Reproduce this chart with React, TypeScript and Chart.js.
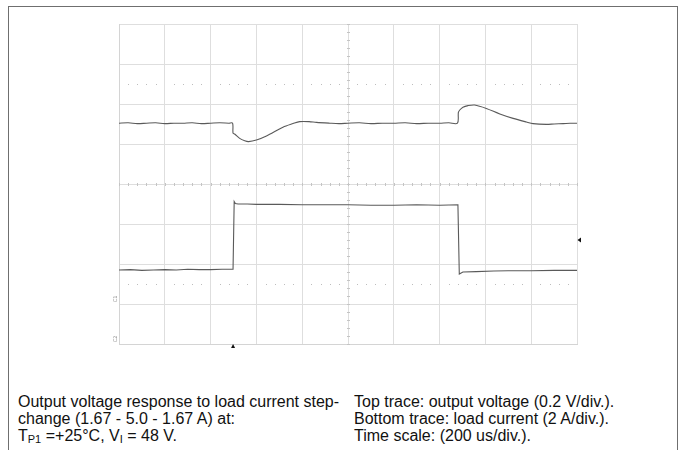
import React, { useEffect, useRef } from "react";
import { Chart, registerables } from "chart.js";

Chart.register(...registerables);

// Time axis (us), 200 us/div, 10 divisions
const timeMin = 0;
const timeMax = 2000;
const timeDiv = 200;
const timeMinor = 40;
// Vertical axis in screen divisions (8 divisions)
const levelMin = 0;
const levelMax = 8;
const levelMinor = 0.2;

// Top trace: output voltage (0.2 V/div), in screen divisions
const topTimes = [
  0, 40, 80, 120, 160, 200, 240, 280, 320, 360, 400, 440, 480, 496,
  498, 505, 527, 549, 566, 600, 644, 716, 760, 789, 830, 862, 920,
  960, 1000, 1050, 1100, 1150, 1200, 1250, 1300, 1350, 1400, 1440, 1478,
  1482, 1488, 1502, 1524, 1553, 1604, 1663, 1721, 1779, 1808, 1866, 1900,
  1940, 1970, 2000,
];
const topTrace = [
  5.52, 5.53, 5.51, 5.52, 5.53, 5.51, 5.52, 5.52, 5.53, 5.51, 5.52, 5.53, 5.52, 5.52,
  5.27, 5.25, 5.14, 5.08, 5.06, 5.1, 5.2, 5.42, 5.51, 5.56, 5.56, 5.54, 5.52,
  5.51, 5.52, 5.53, 5.51, 5.52, 5.52, 5.53, 5.51, 5.52, 5.52, 5.53, 5.52,
  5.79, 5.85, 5.92, 5.96, 5.975, 5.89, 5.75, 5.64, 5.55, 5.51, 5.49, 5.5,
  5.51, 5.52, 5.52,
];

// Bottom trace: load current (2 A/div), in screen divisions
const bottomTimes = [
  0, 50, 100, 150, 200, 250, 300, 350, 400, 450, 494, 498,
  503, 508, 520, 560, 600, 700, 800, 900, 1000, 1100, 1200, 1300, 1400, 1480,
  1486, 1502, 1560, 1637, 1700, 1800, 1900, 2000,
];
const bottomTrace = [
  1.85, 1.86, 1.84, 1.85, 1.86, 1.85, 1.87, 1.86, 1.86, 1.87, 1.87, 1.87,
  3.56, 3.51, 3.5, 3.5, 3.49, 3.49, 3.48, 3.48, 3.48, 3.47, 3.47, 3.48, 3.47, 3.48,
  1.75, 1.8, 1.81, 1.825, 1.83, 1.83, 1.84, 1.84,
];

// Scope markers
const triggerTime = 498;
const triggerLevel = 2.6;
const dottedRows = [6.5, 1.5];
const centerTime = 1000;
const centerLevel = 4;
const channelMarks = [
  { level: 1.05, label: "C1" },
  { level: 0.05, label: "C2" },
];

const captionLeft = [
  "Output voltage response to load current step-",
  "change (1.67 - 5.0 - 1.67 A) at:",
];
const captionRight = [
  "Top trace: output voltage (0.2 V/div.).",
  "Bottom trace: load current (2 A/div.).",
  "Time scale: (200 us/div.).",
];

const gridColor = "#dedede";
const traceColor = "#5a5a5a";

const scopePlugin = {
  id: "scopeDecor",
  beforeDatasetsDraw(chart: any) {
    const { ctx } = chart;
    const x = chart.scales.x;
    const y = chart.scales.y;
    ctx.save();
    // minor ticks on centre lines
    ctx.strokeStyle = "#c4c4c4";
    ctx.lineWidth = 1;
    const cy = Math.round(y.getPixelForValue(centerLevel)) + 0.5;
    const cx = Math.round(x.getPixelForValue(centerTime)) + 0.5;
    ctx.beginPath();
    for (let t = timeMin; t <= timeMax; t += timeMinor) {
      const px = Math.round(x.getPixelForValue(t)) + 0.5;
      ctx.moveTo(px, cy - 1.5);
      ctx.lineTo(px, cy + 1.5);
    }
    for (let v = levelMin; v <= levelMax + 1e-6; v += levelMinor) {
      const py = Math.round(y.getPixelForValue(v)) + 0.5;
      ctx.moveTo(cx - 1.5, py);
      ctx.lineTo(cx + 1.5, py);
    }
    ctx.stroke();
    // dotted rows
    ctx.fillStyle = "#bdbdbd";
    for (const row of dottedRows) {
      const py = Math.round(y.getPixelForValue(row));
      for (let t = timeMin + timeMinor; t < timeMax; t += timeMinor) {
        if (t % timeDiv === 0) continue;
        const px = Math.round(x.getPixelForValue(t));
        ctx.fillRect(px, py, 1, 1);
      }
    }
    ctx.restore();
  },
  afterDatasetsDraw(chart: any) {
    const { ctx, chartArea } = chart;
    const x = chart.scales.x;
    const y = chart.scales.y;
    ctx.save();
    ctx.fillStyle = "#111";
    // trigger time marker (below the grid)
    const tx = x.getPixelForValue(triggerTime);
    const by = chartArea.bottom;
    ctx.beginPath();
    ctx.moveTo(tx, by);
    ctx.lineTo(tx + 2, by + 4);
    ctx.lineTo(tx - 2, by + 4);
    ctx.closePath();
    ctx.fill();
    // trigger level marker (right of the grid)
    const ly = y.getPixelForValue(triggerLevel);
    const rx = chartArea.right;
    ctx.beginPath();
    ctx.moveTo(rx + 0.5, ly);
    ctx.lineTo(rx + 4, ly - 2.5);
    ctx.lineTo(rx + 4, ly + 2.5);
    ctx.closePath();
    ctx.fill();
    // channel ground marks
    ctx.fillStyle = "#8a8a8a";
    ctx.font = "5px 'DejaVu Sans'";
    ctx.textAlign = "center";
    ctx.textBaseline = "middle";
    for (const m of channelMarks) {
      const py = y.getPixelForValue(m.level) - 3;
      ctx.save();
      ctx.translate(chartArea.left - 3.5, py);
      ctx.rotate(-Math.PI / 2);
      ctx.fillText(m.label, 0, 0);
      ctx.restore();
    }
    ctx.restore();
  },
};

export default function App() {
  const canvasRef = useRef<HTMLCanvasElement | null>(null);

  useEffect(() => {
    const canvas = canvasRef.current;
    if (!canvas) return;
    const chart = new Chart(canvas, {
      type: "line",
      data: {
        datasets: [
          {
            label: "Output voltage",
            data: topTimes.map((t, i) => ({ x: t, y: topTrace[i] })),
            borderColor: traceColor,
            borderWidth: 1.1,
            pointRadius: 0,
            tension: 0.3,
            fill: false,
          },
          {
            label: "Load current",
            data: bottomTimes.map((t, i) => ({ x: t, y: bottomTrace[i] })),
            borderColor: traceColor,
            borderWidth: 1.1,
            pointRadius: 0,
            tension: 0,
            fill: false,
          },
        ],
      },
      options: {
        responsive: false,
        animation: false,
        devicePixelRatio: 1,
        layout: { padding: { left: 119, right: 106, top: 24, bottom: 16 } },
        plugins: {
          legend: { display: false },
          tooltip: { enabled: false },
          title: { display: false },
        },
        scales: {
          x: {
            type: "linear",
            min: timeMin,
            max: timeMax,
            ticks: { display: false, stepSize: timeDiv },
            grid: { color: gridColor, lineWidth: 1, drawTicks: false },
            border: { color: "#d4d4d4", width: 1 },
          },
          y: {
            type: "linear",
            min: levelMin,
            max: levelMax,
            ticks: { display: false, stepSize: 1 },
            grid: { color: gridColor, lineWidth: 1, drawTicks: false },
            border: { color: "#d4d4d4", width: 1 },
          },
        },
      },
      plugins: [scopePlugin],
    });
    return () => chart.destroy();
  }, []);

  const textStyle: React.CSSProperties = {
    position: "absolute",
    top: 393,
    fontFamily: "'Liberation Sans', Arial, sans-serif",
    fontSize: 16,
    lineHeight: "17px",
    color: "#111",
    whiteSpace: "nowrap",
  };
  const subStyle: React.CSSProperties = {
    fontSize: 11,
    verticalAlign: "-2px",
    lineHeight: 0,
  };

  return (
    <div
      style={{
        position: "absolute",
        left: 0,
        top: 0,
        width: 683,
        height: 450,
        overflow: "hidden",
        background: "#fff",
      }}
    >
      <div
        style={{
          position: "absolute",
          left: 8,
          top: 6,
          width: 668,
          height: 480,
          border: "1px solid #6f6f6f",
        }}
      />
      <canvas
        ref={canvasRef}
        width={683}
        height={360}
        style={{ position: "absolute", left: 0, top: 0, width: 683, height: 360 }}
      />
      <div style={{ ...textStyle, left: 18 }}>
        <div>{captionLeft[0]}</div>
        <div>{captionLeft[1]}</div>
        <div>
          T<span style={subStyle}>P1</span> =+25°C, V<span style={subStyle}>I</span> = 48 V.
        </div>
      </div>
      <div style={{ ...textStyle, left: 354 }}>
        {captionRight.map((s) => (
          <div key={s}>{s}</div>
        ))}
      </div>
    </div>
  );
}
